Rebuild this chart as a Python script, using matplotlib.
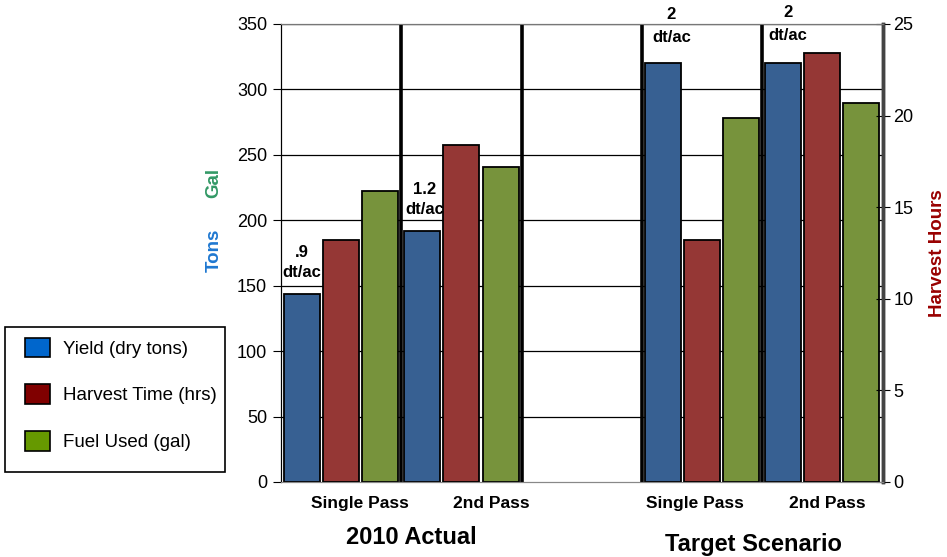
import matplotlib.pyplot as plt
from matplotlib.patches import Patch, Rectangle

plt.rcParams['font.family'] = ['Liberation Sans', 'DejaVu Sans']

# Data
categories = ["Single Pass", "2nd Pass", "Single Pass", "2nd Pass"]
positions = [0, 1, 3, 4]          # slot 2 is left empty between the two groups
yield_tons = [144, 192, 320, 320]
harvest_hrs = [13.2, 18.4, 13.2, 23.4]
fuel_gal = [222, 241, 278, 290]
rate_labels = [".9", "1.2", "2", "2"]
groups = ["2010 Actual", "Target Scenario"]

bar_colors = ["#376092", "#953735", "#77933c"]
legend_colors = ["#0066cc", "#800000", "#669900"]
legend_names = ["Yield (dry tons)", "Harvest Time (hrs)", "Fuel Used (gal)"]

W, H = 947, 557
fig = plt.figure(figsize=(W / 100, H / 100), dpi=100)
ax1 = fig.add_axes([281 / W, 1 - 482 / H, 601.5 / W, 458 / H])
ax2 = ax1.twinx()

w = 0.30
off = 0.325
ax1.bar([p - off for p in positions], yield_tons, w, color=bar_colors[0],
        edgecolor="black", linewidth=1.3, zorder=3)
ax1.bar([p + off for p in positions], fuel_gal, w, color=bar_colors[2],
        edgecolor="black", linewidth=1.3, zorder=3)
ax2.bar(positions, harvest_hrs, w, color=bar_colors[1],
        edgecolor="black", linewidth=1.3, zorder=3)

ax1.set_xlim(-0.5, 4.5)
ax1.set_ylim(0, 350)
ax2.set_ylim(0, 25)
ax1.set_yticks(range(0, 351, 50))
ax2.set_yticks(range(0, 26, 5))

# horizontal grid and slot separators
for v in range(50, 351, 50):
    ax1.axhline(v, color="black", lw=0.9, zorder=1)
for s in [0.5, 1.5, 2.5, 3.5]:
    ax1.axvline(s, color="black", lw=2.6, zorder=4)

# yield per acre labels over the blue bars
for p, y, lab in zip(positions, yield_tons, rate_labels):
    if y > 300:
        dx = 0.07 if p == 3 else 0.04
        top = 357 if p == 3 else 358.5
        ax1.text(p - off + dx, top, lab, ha="center", va="center",
                 fontsize=12, fontweight="bold", zorder=2, clip_on=False)
        ax1.text(p - off + dx, top - 17.5, "dt/ac", ha="center", va="center",
                 fontsize=12, fontweight="bold", zorder=2, clip_on=False)
    else:
        dx = 0.0 if p == 0 else 0.02
        ax1.text(p - off + dx, y + 31.5, lab, ha="center", va="center",
                 fontsize=12, fontweight="bold", zorder=2)
        ax1.text(p - off + dx, y + 16, "dt/ac", ha="center", va="center",
                 fontsize=12, fontweight="bold", zorder=2)

# category labels
label_x = [0.16, 1.25, 2.94, 4.04]
ax1.set_xticks(label_x)
ax1.set_xticklabels(categories, fontsize=12.5, fontweight="bold")
ax1.tick_params(axis="x", length=0, pad=10)
ax1.tick_params(axis="y", labelsize=13, length=6, direction="out", pad=4)
ax2.tick_params(axis="y", labelsize=13, length=10, direction="inout", pad=3)

for ax in (ax1, ax2):
    ax.spines["top"].set_color("#777777")
    ax.spines["bottom"].set_color("#888888")
    ax.spines["left"].set_color("black")
    ax.spines["right"].set_color("#444444")
    ax.spines["right"].set_linewidth(2.5)
ax2.patch.set_visible(False)

fig.text(411 / W, 1 - 538 / H, groups[0], ha="center", va="center",
         fontsize=17, fontweight="bold")
fig.text(753 / W, 1 - 545 / H, groups[1], ha="center", va="center",
         fontsize=17, fontweight="bold")

fig.text(214 / W, 1 - 250.5 / H, "Tons", rotation=90, ha="center", va="center",
         fontsize=13.5, fontweight="bold", color="#1f78d1")
fig.text(214 / W, 1 - 182.5 / H, "Gal", rotation=90, ha="center", va="center",
         fontsize=13.5, fontweight="bold", color="#339966")
fig.text(937.5 / W, 1 - 253 / H, "Harvest Hours", rotation=90, ha="center",
         va="center", fontsize=13.5, fontweight="bold", color="#990000")

# legend: entries without frame, box drawn separately
handles = [Patch(facecolor=c, edgecolor="black", linewidth=1.2) for c in legend_colors]
fig.legend(handles, legend_names, loc="upper left",
           bbox_to_anchor=(25 / W, 1 - 337.5 / H), fontsize=13.5,
           frameon=False, handlelength=1.33, handleheight=1.25,
           labelspacing=1.41, borderpad=0, handletextpad=0.7, borderaxespad=0)
fig.patches.append(Rectangle((5 / W, 1 - 472 / H), 220 / W, 145 / H,
                             transform=fig.transFigure, facecolor="none",
                             edgecolor="black", linewidth=1.2))

fig.savefig("out.png", dpi=100)
